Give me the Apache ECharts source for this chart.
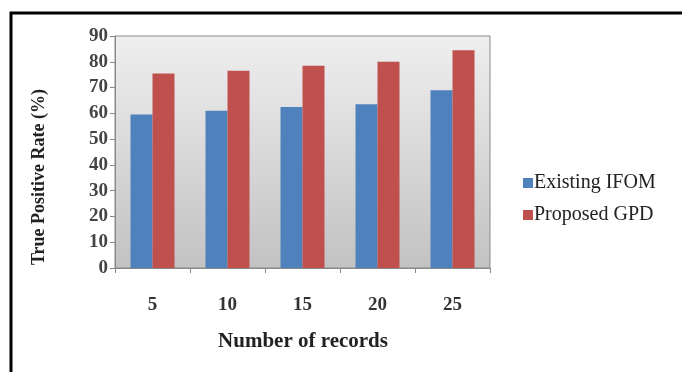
<!DOCTYPE html>
<html><head><meta charset="utf-8">
<script src="https://cdn.jsdelivr.net/npm/echarts@6/dist/echarts.min.js"></script>
<style>html,body{margin:0;padding:0;background:#fff}#c{width:682px;height:372px}</style>
</head><body><div id="c"></div>
<script>
const categories = ['5','10','15','20','25'];
const existingIFOM = [59.5, 61, 62.5, 63.5, 69];
const proposedGPD = [75.5, 76.5, 78.5, 80, 84.5];
const seriesNames = ['Existing IFOM','Proposed GPD'];
const yTitle = 'True Positive Rate (%)';
const xTitle = 'Number of records';

const font = '"Liberation Serif","DejaVu Serif",serif';
const chart = echarts.init(document.getElementById('c'));
chart.setOption({
  animation:false,
  backgroundColor:'#fff',
  graphic:[
    {type:'rect',shape:{x:11,y:13,width:700,height:400},style:{fill:'none',stroke:'#000',lineWidth:3},z:100},
    {type:'text',x:39,y:177,rotation:Math.PI/2,
      style:{text:yTitle,fontFamily:font,fontSize:18,fontWeight:'bold',fill:'#222',align:'center',verticalAlign:'middle'}},
    {type:'text',x:303,y:342,
      style:{text:xTitle,fontFamily:font,fontSize:21,fontWeight:'bold',fill:'#222',align:'center',verticalAlign:'middle'}}
  ],
  grid:{left:115,right:192,top:36,bottom:104,show:true,borderColor:'#8a8a8a',borderWidth:1,
    backgroundColor:new echarts.graphic.LinearGradient(0,0,0,1,[{offset:0,color:'#efefef'},{offset:1,color:'#c2c2c2'}])},
  legend:{orient:'vertical',left:518,top:168,itemWidth:10,itemHeight:10,itemGap:12,icon:'rect',
    textStyle:{fontFamily:font,fontSize:20,color:'#222',padding:[0,0,0,-4]},
    data:seriesNames},
  xAxis:{type:'category',data:categories,
    axisLine:{lineStyle:{color:'#888'}},
    axisTick:{show:true,length:5,lineStyle:{color:'#888'}},
    axisLabel:{fontFamily:font,fontSize:19,fontWeight:'bold',color:'#333',margin:28}},
  yAxis:{type:'value',min:0,max:90,interval:10,
    axisLine:{show:true,lineStyle:{color:'#888'}},
    axisTick:{show:true,length:5,lineStyle:{color:'#888'}},
    splitLine:{show:false},
    axisLabel:{fontFamily:font,fontSize:19,fontWeight:'bold',color:'#444',margin:7}},
  series:[
    {name:seriesNames[0],type:'bar',data:existingIFOM,barWidth:22,barGap:'0%',itemStyle:{color:'#4f81bd'}},
    {name:seriesNames[1],type:'bar',data:proposedGPD,barWidth:22,barGap:'0%',itemStyle:{color:'#c0504d'}}
  ]
});
</script></body></html>
